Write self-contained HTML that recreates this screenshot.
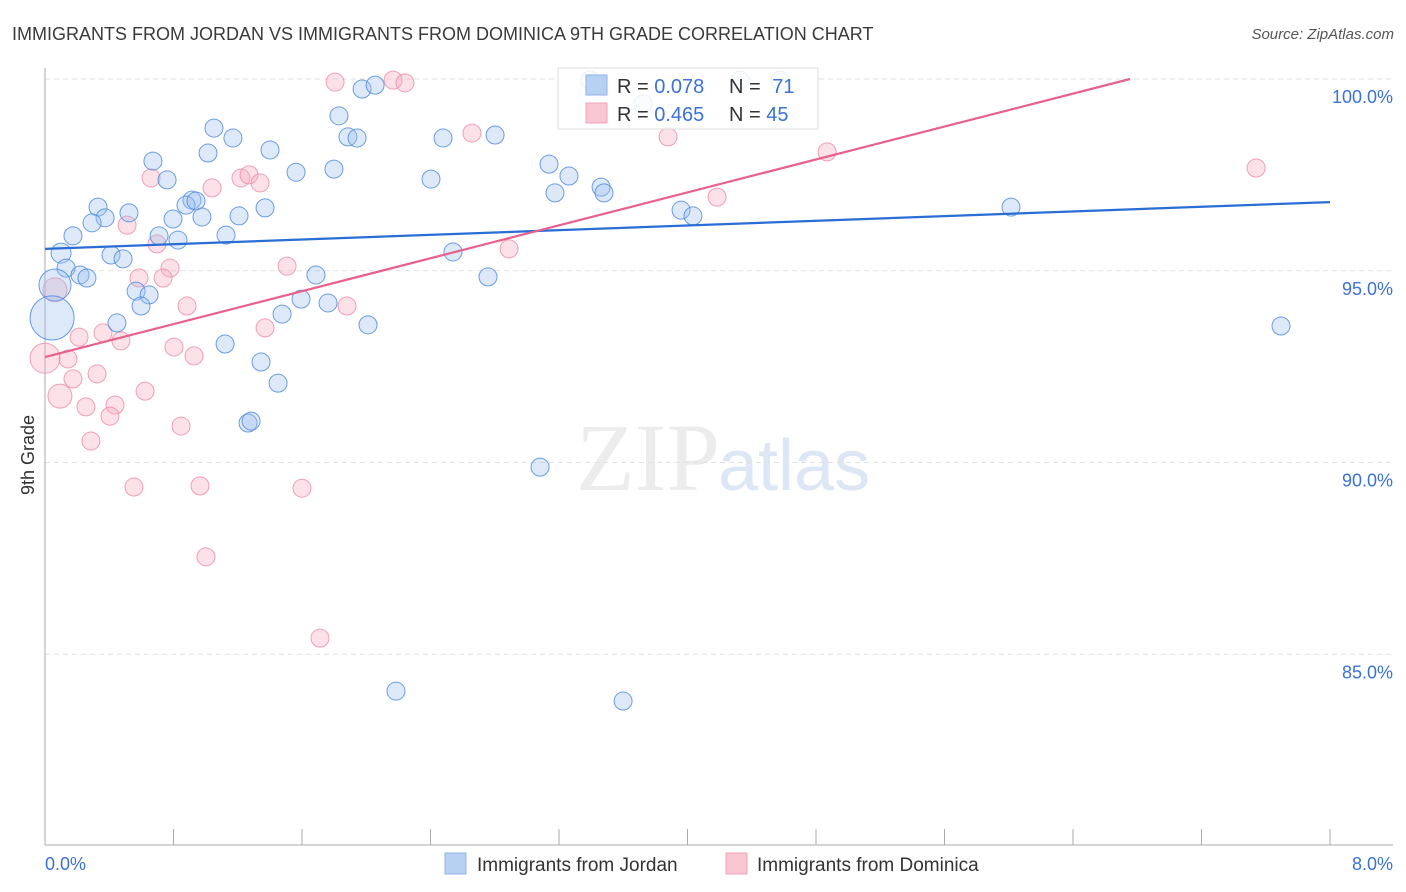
<!DOCTYPE html>
<html><head><meta charset="utf-8">
<style>
body{margin:0;background:#fff;font-family:"Liberation Sans",sans-serif;}
svg{display:block}
</style></head>
<body>
<svg id="chart" width="1406" height="892">
<text x="12" y="40" font-size="18" fill="#3a3a3a">IMMIGRANTS FROM JORDAN VS IMMIGRANTS FROM DOMINICA 9TH GRADE CORRELATION CHART</text>
<text x="1394" y="39" font-size="15" fill="#555" font-style="italic" text-anchor="end">Source: ZipAtlas.com</text>
<text x="720" y="490" font-size="96" fill="#ececec" text-anchor="end" font-family="Liberation Serif,serif">ZIP</text>
<text x="718" y="490" font-size="72" fill="#dce6f5">atlas</text>
<g id="grid"></g>
<g id="axes"></g>
<g id="marks"></g>
<text transform="translate(34,455) rotate(-90)" font-size="18" fill="#333" text-anchor="middle">9th Grade</text>
<text x="45" y="870" font-size="18" fill="#3b72d4">0.0%</text>
<text x="1393" y="870" font-size="18" fill="#3b72d4" text-anchor="end">8.0%</text>
<g>
<rect x="558" y="68" width="260" height="61" fill="#fff" fill-opacity="0.85" stroke="#ddd"/>
<rect x="586" y="75" width="21" height="20" fill="#b7d1f3" stroke="#8fb3e8"/>
<rect x="586" y="103" width="21" height="20" fill="#f9c6d4" stroke="#f0a3b9"/>
<text x="617" y="93" font-size="20" fill="#333">R = <tspan fill="#3b72d4">0.078</tspan></text>
<text x="729" y="93" font-size="20" fill="#333">N = <tspan fill="#3b72d4" dx="6">71</tspan></text>
<text x="617" y="121" font-size="20" fill="#333">R = <tspan fill="#3b72d4">0.465</tspan></text>
<text x="729" y="121" font-size="20" fill="#333">N = <tspan fill="#3b72d4">45</tspan></text>
</g>
<g>
<rect x="445" y="853" width="21" height="21" fill="#b7d1f3" stroke="#8fb3e8"/>
<text x="477" y="871" font-size="19" fill="#333">Immigrants from Jordan</text>
<rect x="726" y="853" width="21" height="21" fill="#f9c6d4" stroke="#f0a3b9"/>
<text x="757" y="871" font-size="19" fill="#333">Immigrants from Dominica</text>
</g>
</svg>
<script>
const yTicks=[100,95,90,85];
const yTickLabels=["100.0%","95.0%","90.0%","85.0%"];
const jordanX=[3.393,4.327,4.576,3.723,1.974,2.055,1.830,1.052,1.170,1.015,0.672,1.401,1.886,1.943,2.478,2.802,3.138,3.262,3.462,3.480,3.175,1.563,1.799,2.403,0.760,0.915,0.878,0.940,1.370,1.208,0.977,0.797,0.330,0.374,0.293,0.523,0.174,0.710,0.828,1.127,0.100,0.411,0.486,0.131,0.218,0.261,0.567,0.648,0.598,1.687,2.540,2.758,1.594,1.762,1.476,2.011,0.448,1.121,1.345,1.451,1.264,1.283,3.082,2.185,3.599,3.960,4.034,6.014,7.695,0.062,0.044];
const jordanY=[99.97,99.97,99.97,99.35,99.74,99.84,99.04,98.72,98.46,98.07,97.86,98.15,98.49,98.46,98.46,98.54,97.78,97.47,97.18,97.03,97.03,97.57,97.65,97.39,97.37,96.84,96.71,96.82,96.64,96.43,96.40,96.35,96.66,96.38,96.25,96.51,95.91,95.91,95.80,95.93,95.46,95.41,95.31,95.07,94.89,94.81,94.47,94.37,94.08,94.89,95.49,94.84,94.26,94.16,93.87,93.59,93.64,93.09,92.62,92.07,91.03,91.08,89.88,84.04,83.78,96.58,96.43,96.66,93.56,94.63,93.77];
const jordanSize=[9,9,9,9,9,9,9,9,9,9,9,9,9,9,9,9,9,9,9,9,9,9,9,9,9,9,9,9,9,9,9,9,9,9,9,9,9,9,9,9,10,9,9,9,9,9,9,9,9,9,9,9,9,9,9,9,9,9,9,9,9,9,9,9,9,9,9,9,9,16,22];
const dominicaX=[1.806,2.167,2.241,2.658,3.879,4.869,7.540,0.660,1.040,1.220,1.270,1.339,0.511,0.697,0.778,0.585,0.735,1.507,0.884,1.880,0.062,2.889,0.361,0.212,0.473,0.803,1.370,0.928,0.143,0.0,0.174,0.324,0.093,0.255,0.436,0.405,0.623,0.847,0.286,0.554,0.965,1.600,1.002,1.712,4.184];
const dominicaY=[99.92,99.97,99.90,98.59,98.49,98.10,97.68,97.42,97.16,97.42,97.50,97.29,96.19,95.70,95.07,94.81,94.81,95.12,94.08,94.08,94.50,95.57,93.38,93.27,93.17,93.01,93.51,92.78,92.70,92.72,92.18,92.31,91.73,91.45,91.50,91.21,91.86,90.95,90.56,89.36,89.39,89.33,87.54,85.42,96.92];
const dominicaSize=[9,9,9,9,9,9,9,9,9,9,9,9,9,9,9,9,9,9,9,9,12,9,9,9,9,9,9,9,9,15,9,9,12,9,9,9,9,9,9,9,9,9,9,9,9];
const jordanTrend=[95.57,96.79];
const dominicaTrend=[92.75,100.0];
const xTickCount=10;

const NS="http://www.w3.org/2000/svg";
const X0=45,X1=1330,Y100=79,PXPER=38.35;
function sx(v){return X0+(v/8)*(X1-X0);}
function sy(v){return Y100+(100-v)*PXPER;}
function mk(tag,attrs,parent){const e=document.createElementNS(NS,tag);for(const k in attrs)e.setAttribute(k,attrs[k]);parent.appendChild(e);return e;}
const grid=document.getElementById('grid'),axes=document.getElementById('axes'),marks=document.getElementById('marks');
yTicks.forEach((t,i)=>{
  const l=mk('line',{x1:45,x2:1393,y1:sy(t),y2:sy(t),stroke:'#e2e2e2','stroke-dasharray':'5,4'},grid);
  
  
  const tx=mk('text',{x:1393,y:sy(t)+24,'font-size':18,fill:'#3b72d4','text-anchor':'end'},grid);
  tx.textContent=yTickLabels[i];
  
  
});
const ya=mk('line',{x1:45,x2:45,y1:68,y2:845,stroke:'#aaa'},axes);


const xa=mk('line',{x1:45,x2:1393,y1:845,y2:845,stroke:'#aaa'},axes);


for(let i=1;i<=xTickCount;i++){
  const x=sx(i*8/xTickCount);
  const tk=mk('line',{x1:x,x2:x,y1:829,y2:845,stroke:'#aaa'},axes);
  
  
}
function dots(xs,ys,ss,fill,stroke,name){
  xs.forEach((v,i)=>{
    const c=mk('circle',{cx:sx(v),cy:sy(ys[i]),r:ss[i],fill:fill,'fill-opacity':0.35,stroke:stroke,'stroke-opacity':0.8,'stroke-width':1},marks);
    
    
  });
}
dots(dominicaX,dominicaY,dominicaSize,'#f6a9bf','#ec8aa8','dominica-point');
dots(jordanX,jordanY,jordanSize,'#9ec1ee','#4a87dc','jordan-point');
const tj=mk('line',{x1:sx(0),y1:sy(jordanTrend[0]),x2:sx(8),y2:sy(jordanTrend[1]),stroke:'#2a6dd4','stroke-width':2.2},marks);


const slope=(dominicaTrend[1]-dominicaTrend[0]);
const xEnd=Math.min(8,(100-dominicaTrend[0])/(slope/6.755));
const td=mk('line',{x1:sx(0),y1:sy(dominicaTrend[0]),x2:sx(xEnd),y2:sy(dominicaTrend[0]+slope/6.755*xEnd),stroke:'#e8608e','stroke-width':2.2},marks);


</script>
</body></html>
